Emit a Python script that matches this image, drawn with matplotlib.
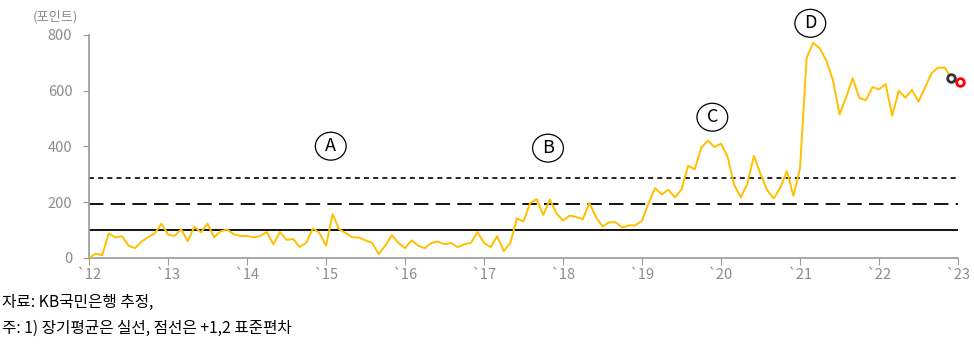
import matplotlib.pyplot as plt
from matplotlib.patches import Ellipse

plt.rcParams["font.family"] = ["Noto Sans CJK KR", "DejaVu Sans"]

# Monthly index values, Jan 2012 - Dec 2022
values = [
    0, 15, 10, 88, 74, 78, 44, 35, 59, 75, 88, 123,          # 2012
    84, 79, 103, 60, 112, 92, 123, 74, 96, 102, 85, 79,      # 2013
    79, 74, 79, 93, 49, 93, 65, 68, 39, 55, 106, 90,         # 2014
    44, 157, 103, 89, 74, 73, 63, 54, 14, 44, 82, 54,        # 2015
    35, 63, 44, 35, 54, 59, 49, 54, 39, 49, 54, 93,          # 2016
    54, 39, 78, 25, 54, 142, 131, 197, 211, 154, 210, 160,   # 2017
    134, 152, 147, 139, 197, 147, 113, 128, 128, 109, 117, 117,  # 2018
    134, 197, 251, 228, 245, 217, 246, 331, 318, 396, 421, 398,  # 2019
    410, 363, 262, 217, 267, 366, 301, 244, 213, 252, 311, 223,  # 2020
    322, 718, 772, 752, 708, 638, 515, 576, 645, 574, 566, 613,  # 2021
    605, 624, 510, 600, 575, 603, 561, 612, 664, 683, 683, 644,  # 2022
]
latest_value = 631  # Jan 2023 estimate (red marker)

long_avg = 100
sd1 = 195
sd2 = 288

years = list(range(2012, 2024))
year_labels = ["`" + str(y)[2:] for y in years]

labels = ["A", "B", "C", "D"]
label_x = [2015.06, 2017.81, 2019.89, 2021.13]
label_y = [401, 394, 505, 842]

x = [2012 + i / 12 for i in range(len(values))]

fig = plt.figure(figsize=(9.74, 3.5), dpi=100)
ax = fig.add_axes([0.0914, 0.263, 0.8922, 0.637])

ax.axhline(long_avg, color="black", linewidth=1.3)
ax.axhline(sd1, color="black", linewidth=1.3, linestyle=(0, (8, 4)))
ax.axhline(sd2, color="black", linewidth=1.2, linestyle=(0, (3, 2.5)))

ax.plot(x, values, color="#FFC000", linewidth=1.4, zorder=3)
ax.plot(x[-1], values[-1], marker="o", markersize=5.5, markerfacecolor="white",
        markeredgecolor="#333333", markeredgewidth=2, zorder=4, clip_on=False)
ax.plot(2023.02, latest_value, marker="o", markersize=5.5, markerfacecolor="white",
        markeredgecolor="red", markeredgewidth=2, zorder=4, clip_on=False)

for lab, lx, ly in zip(labels, label_x, label_y):
    ax.add_patch(Ellipse((lx, ly), 0.39, 100, facecolor="white", edgecolor="black",
                         linewidth=0.9, clip_on=False, zorder=5))
    ax.text(lx, ly, lab, ha="center", va="center", fontsize=13, zorder=6,
            clip_on=False)

ax.set_xlim(2012, 2023)
ax.set_ylim(0, 800)
ax.set_xticks(years)
ax.set_xticklabels(year_labels)
ax.set_yticks(range(0, 801, 200))

for side in ["top", "right"]:
    ax.spines[side].set_visible(False)
for side in ["left", "bottom"]:
    ax.spines[side].set_color("#999999")
    ax.spines[side].set_linewidth(1.2)
ax.tick_params(axis="both", colors="#999999", labelcolor="#8c8c8c", labelsize=10.5)
ax.tick_params(axis="x", length=5, pad=2)
ax.tick_params(axis="y", length=4, pad=8)

fig.text(0.034, 0.952, "(포인트)", fontsize=9.5, color="#8c8c8c", va="center")
fig.text(0.002, 0.137, "자료: KB국민은행 추정,", fontsize=11.3, va="center")
fig.text(0.002, 0.063, "주: 1) 장기평균은 실선, 점선은 +1,2 표준편차", fontsize=11.3, va="center")

fig.savefig("out.png", dpi=100)
